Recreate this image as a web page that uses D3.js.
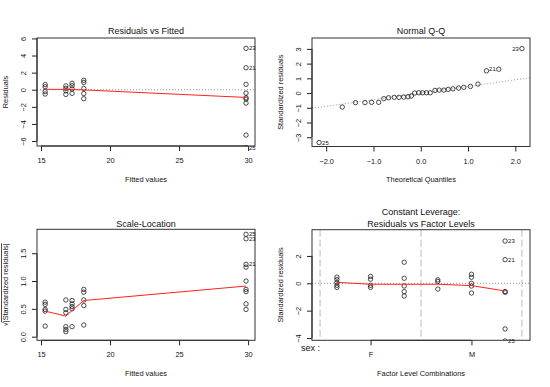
<!DOCTYPE html>
<html>
<head>
<meta charset="utf-8">
<script src="https://cdn.jsdelivr.net/npm/d3@7"></script>
<style>
body { margin: 0; background: #fff; }
text { font-family: "Liberation Sans", Arial, sans-serif; fill: #111; }
</style>
</head>
<body>
<script>
// Residuals vs Fitted
var fitted = [15.3, 15.3, 15.3, 15.3, 16.8, 16.8, 16.8, 16.8, 17.25, 17.25, 17.25, 17.25,
    18.1, 18.1, 18.1, 18.1, 18.1, 29.85, 29.85, 29.85, 29.85, 29.85, 29.85, 29.85, 29.85, 29.85]
var residuals = [0.6, 0.35, -0.2, -0.5, 0.45, 0.16, -0.12, -0.55, 0.75, 0.47, 0.1, -0.42,
    1.1, 0.85, 0.15, -0.45, -1.05, 4.84, 2.57, 0.63, -0.39, -0.94, -1.09, -1.56, -5.3, -6.78]
var residLabels = [{ id: "23", i: 17 }, { id: "21", i: 18 }, { id: "25", i: 25 }]
var smoothFittedX = [15.3, 16.8, 17.25, 18.1, 29.85]
var smoothFittedY = [0.05, 0.04, 0.02, -0.02, -0.9]

// Normal Q-Q
var theoQuant = [-2.15, -1.66, -1.38, -1.18, -1.04, -0.89, -0.78, -0.68, -0.56, -0.46, -0.36, -0.27,
    -0.2, -0.13, -0.04, 0.04, 0.12, 0.2, 0.3, 0.39, 0.49, 0.58, 0.68, 0.8, 0.91, 1.05, 1.21, 1.39, 1.65, 2.14]
var stdResid = [-3.36, -0.95, -0.65, -0.65, -0.63, -0.63, -0.38, -0.32, -0.29, -0.29, -0.27, -0.25,
    -0.2, 0, 0.02, 0.02, 0.02, 0.02, 0.18, 0.2, 0.2, 0.25, 0.29, 0.34, 0.39, 0.45, 0.61, 1.51, 1.62, 3.02]
var qqLabels = [{ id: "25", i: 0 }, { id: "21", i: 28 }, { id: "23", i: 29 }]
var qqIntercept = 0
var qqSlope = 0.45

// Scale-Location
var slFitted = [15.3, 15.3, 15.3, 15.3, 15.3, 16.8, 16.8, 16.8, 16.8, 16.8, 16.8,
    17.25, 17.25, 17.25, 17.25, 17.25, 18.1, 18.1, 18.1, 18.1, 18.1,
    29.85, 29.85, 29.85, 29.85, 29.85, 29.85, 29.85, 29.85, 29.85]
var slSqrt = [0.62, 0.58, 0.49, 0.46, 0.19, 0.66, 0.49, 0.43, 0.18, 0.13, 0.09,
    0.65, 0.59, 0.54, 0.5, 0.18, 0.85, 0.8, 0.66, 0.56, 0.21,
    1.84, 1.76, 1.3, 1.25, 1.0, 0.85, 0.81, 0.59, 0.49]
var slLabels = [{ id: "25", i: 21 }, { id: "23", i: 22 }, { id: "21", i: 23 }]
var smoothSlY = [0.46, 0.37, 0.47, 0.65, 0.91]

// Residuals vs Factor Levels
var factorGroup = [1, 1, 1, 1, 1, 2, 2, 2, 2, 3, 3, 3, 3, 3, 4, 4, 4, 5, 5, 5, 5, 5, 6, 6, 6, 6, 6, 6]
var factorResid = [0.45, 0.27, 0.05, -0.15, -0.3, 0.5, 0.3, -0.15, -0.3, 1.54, 0.37, -0.2, -0.61, -0.93,
    0.25, 0.13, -0.42, 0.66, 0.44, 0, -0.2, -0.71, 3.09, 1.73, -0.6, -0.66, -3.34, -4.22]
var factorLabels = [{ id: "23", i: 22 }, { id: "21", i: 23 }, { id: "25", i: 27 }]
var smoothFactorX = [1, 2, 3, 4, 5, 6]
var smoothFactorY = [0.07, -0.07, -0.07, -0.07, -0.17, -0.56]
var factorTicks = [2, 5]
var factorTickLabels = ["F", "M"]
var factorSeparators = [0.5, 3.5, 6.5]

var svg = d3.select("body")
    .append("svg")
    .attr("width", 550)
    .attr("height", 387)

function panel(o) {
    var x = d3.scaleLinear().domain(o.xd).range([o.l, o.r])
    var y = d3.scaleLinear().domain(o.yd).range([o.b, o.t])
    var g = svg.append("g")

    g.append("clipPath").attr("id", "clip" + o.name)
        .append("rect")
        .attr("x", o.l).attr("y", o.t)
        .attr("width", o.r - o.l).attr("height", o.b - o.t)

    var inner = g.append("g").attr("clip-path", "url(#clip" + o.name + ")")

    // x axis
    var ax = d3.axisBottom(x).tickSize(5).tickSizeOuter(0).tickPadding(6.8)
    if (o.xt) ax.tickValues(o.xt)
    if (o.xf) ax.tickFormat(o.xf)
    var gx = g.append("g")
        .attr("transform", "translate(0," + o.b + ")")
        .call(ax)
    gx.select(".domain").remove()
    gx.append("line")
        .attr("x1", x(o.xt[0])).attr("x2", x(o.xt[o.xt.length - 1]))
        .attr("stroke", "#222")
    gx.selectAll("text").attr("font-size", 7.4).attr("fill", "#111")
        .style("font-family", "'Liberation Sans', Arial, sans-serif")
    gx.selectAll(".tick line").attr("stroke", "#222")

    // y axis, labels rotated as in R
    var ay = d3.axisLeft(y).tickValues(o.yt).tickSize(5).tickSizeOuter(0)
    if (o.yf) ay.tickFormat(o.yf)
    var gy = g.append("g")
        .attr("transform", "translate(" + o.l + ",0)")
        .call(ay)
    gy.select(".domain").remove()
    gy.append("line")
        .attr("y1", y(o.yt[0])).attr("y2", y(o.yt[o.yt.length - 1]))
        .attr("stroke", "#222")
    gy.selectAll(".tick line").attr("stroke", "#222")
    gy.selectAll("text")
        .attr("x", null).attr("dy", null)
        .attr("text-anchor", "middle")
        .attr("transform", "translate(-10.6,0) rotate(-90)")
        .attr("font-size", 7.4).attr("fill", "#111")
        .style("font-family", "'Liberation Sans', Arial, sans-serif")

    // box
    g.append("rect")
        .attr("x", o.l).attr("y", o.t)
        .attr("width", o.r - o.l).attr("height", o.b - o.t)
        .attr("fill", "none")
        .attr("stroke", "#333")

    // titles
    var cx = (o.l + o.r) / 2
    o.title.forEach(function (t, k) {
        g.append("text")
            .attr("x", cx).attr("y", o.titleY[k])
            .attr("dy", "0.35em")
            .attr("text-anchor", "middle")
            .attr("font-size", 9)
            .text(t)
    })
    g.append("text")
        .attr("x", cx).attr("y", o.b + 33)
        .attr("dy", "0.35em")
        .attr("text-anchor", "middle")
        .attr("font-size", 7.4)
        .text(o.xlab)
    var yl = g.append("text")
        .attr("transform", "translate(" + (o.l - 31.5) + "," + ((o.t + o.b) / 2) + ") rotate(-90)")
        .attr("dy", "0.35em")
        .attr("text-anchor", "middle")
        .attr("font-size", 7.4)
    if (o.ylabOver) {
        yl.append("tspan").text("\u221A")
        yl.append("tspan").style("text-decoration", "overline").text(o.ylab)
    } else {
        yl.text(o.ylab)
    }

    return { g: g, inner: inner, x: x, y: y }
}

function drawPoints(p, xs, ys) {
    p.inner.selectAll(null)
        .data(ys)
        .enter()
        .append("circle")
        .attr("cx", function (d, i) { return p.x(xs[i]) })
        .attr("cy", function (d) { return p.y(d) })
        .attr("r", 2.2)
        .attr("fill", "none")
        .attr("stroke", "#111")
        .attr("stroke-width", 0.75)
}

function drawLabels(p, labels, xs, ys, side) {
    labels.forEach(function (lab) {
        var left = side ? side(xs[lab.i]) : false
        p.g.append("text")
            .attr("x", p.x(xs[lab.i]) + (left ? -3 : 3))
            .attr("y", p.y(ys[lab.i]))
            .attr("dy", "0.35em")
            .attr("text-anchor", left ? "end" : "start")
            .attr("font-size", 6)
            .text(lab.id)
    })
}

function smooth(p, xs, ys) {
    var line = d3.line()
        .x(function (d, i) { return p.x(xs[i]) })
        .y(function (d) { return p.y(d) })
    p.inner.append("path")
        .attr("d", line(ys))
        .attr("fill", "none")
        .attr("stroke", "#ff2020")
        .attr("stroke-width", 1)
}

function hDotted(p, v) {
    p.inner.append("line")
        .attr("x1", p.x.range()[0]).attr("x2", p.x.range()[1])
        .attr("y1", p.y(v)).attr("y2", p.y(v))
        .attr("stroke", "#999")
        .attr("stroke-dasharray", "1,2")
}

// panel 1
var p1 = panel({
    name: "a", l: 37, r: 255, t: 38, b: 146,
    xd: [14.71, 30.5], yd: [-6.58, 6.05],
    xt: [15, 20, 25, 30], yt: [-6, -4, -2, 0, 2, 4, 6],
    title: ["Residuals vs Fitted"], titleY: [30.7],
    xlab: "Fitted values", ylab: "Residuals"
})
hDotted(p1, 0)
drawPoints(p1, fitted, residuals)
smooth(p1, smoothFittedX, smoothFittedY)
drawLabels(p1, residLabels, fitted, residuals)

// panel 2
var p2 = panel({
    name: "b", l: 312, r: 530, t: 38, b: 146.5,
    xd: [-2.30, 2.31], yd: [-3.63, 3.74],
    xt: [-2, -1, 0, 1, 2], yt: [-3, -2, -1, 0, 1, 2, 3],
    title: ["Normal Q-Q"], titleY: [30.7],
    xlab: "Theoretical Quantiles", ylab: "Standardized residuals"
})
var qqx = p2.x.domain()
p2.inner.append("line")
    .attr("x1", p2.x(qqx[0])).attr("y1", p2.y(qqIntercept + qqSlope * qqx[0]))
    .attr("x2", p2.x(qqx[1])).attr("y2", p2.y(qqIntercept + qqSlope * qqx[1]))
    .attr("stroke", "#999")
    .attr("stroke-dasharray", "1,2")
drawPoints(p2, theoQuant, stdResid)
drawLabels(p2, qqLabels, theoQuant, stdResid, function (v) { return v > 0 })

// panel 3
var p3 = panel({
    name: "c", l: 37, r: 255, t: 229.3, b: 340.3,
    xd: [14.71, 30.5], yd: [-0.065, 1.93],
    xt: [15, 20, 25, 30], yt: [0, 0.5, 1, 1.5], yf: d3.format(".1f"),
    title: ["Scale-Location"], titleY: [224],
    xlab: "Fitted values", ylab: "|Standardized residuals|", ylabOver: true
})
drawPoints(p3, slFitted, slSqrt)
smooth(p3, smoothFittedX, smoothSlY)
drawLabels(p3, slLabels, slFitted, slSqrt)

// panel 4
var p4 = panel({
    name: "d", l: 312, r: 530, t: 229.7, b: 340.3,
    xd: [0.26, 6.74], yd: [-4.17, 3.92],
    xt: factorTicks, xf: function (d, i) { return factorTickLabels[i] },
    yt: [-4, -2, 0, 2],
    title: ["Constant Leverage:", "Residuals vs Factor Levels"], titleY: [212.3, 223.7],
    xlab: "Factor Level Combinations", ylab: "Standardized residuals"
})
factorSeparators.forEach(function (s) {
    p4.inner.append("line")
        .attr("x1", p4.x(s)).attr("x2", p4.x(s))
        .attr("y1", 229.7).attr("y2", 340.3)
        .attr("stroke", "#bbb")
        .attr("stroke-dasharray", "7,3")
})
hDotted(p4, 0)
drawPoints(p4, factorGroup, factorResid)
smooth(p4, smoothFactorX, smoothFactorY)
drawLabels(p4, factorLabels, factorGroup, factorResid)
p4.g.append("text")
    .attr("x", 320).attr("y", 347.5)
    .attr("dy", "0.35em")
    .attr("text-anchor", "end")
    .attr("font-size", 9)
    .text("sex :")
</script>
</body>
</html>
